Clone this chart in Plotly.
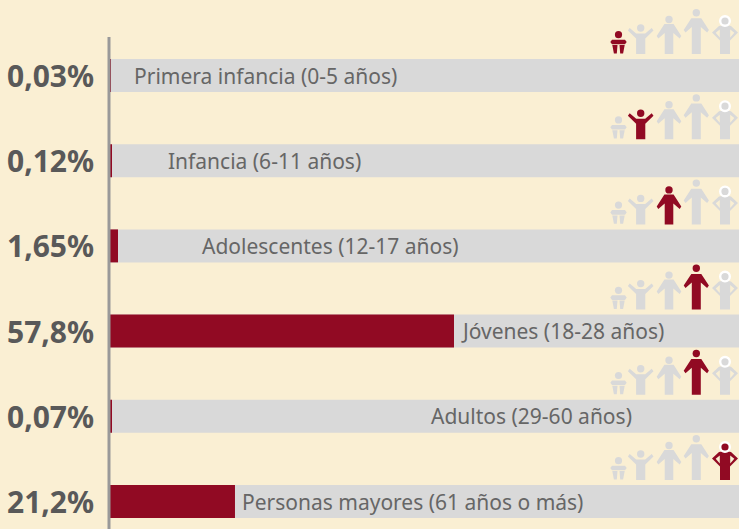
import plotly.graph_objects as go

# ---- data ----
categories = ["Primera infancia (0-5 años)", "Infancia (6-11 años)", "Adolescentes (12-17 años)",
              "Jóvenes (18-28 años)", "Adultos (29-60 años)", "Personas mayores (61 años o más)"]
percent_labels = ["0,03%", "0,12%", "1,65%", "57,8%", "0,07%", "21,2%"]
bar_values = [0.15, 0.3, 1.35, 57.8, 0.3, 21.0]
track_values = [106, 106, 106, 106, 106, 106]
highlighted_icon = [0, 1, 2, 3, 3, 4]

# ---- layout constants ----
W, H = 739, 529
X0 = 110
PX_PER_UNIT = 344 / 57.8
ROW0, PITCH = 75.5, 85.2
label_start_px = [132, 166, 200, 459, 429, 240]
icon_center_px = [618.5, 640.7, 669, 696.3, 725]
ICON_BASE_ABOVE_BAR = 21.5
BG, GREY, RED = "#FAEFD3", "#D9D9D9", "#910A23"
AXIS = "#999999"
LABEL_FONT = "Noto Sans"
PCT_FONT = "Noto Sans"


def x_data(px):
    return (px - X0) / PX_PER_UNIT


def poly(right_half):
    pts = list(right_half) + [(-x, y) for x, y in reversed(right_half)]
    return "M" + " L".join(f"{x},{y}" for x, y in pts) + " Z"


baby_legs = "M-6.2,9 L-1,9 L-1.7,0.6 L-4.6,0.6 Z M1,9 L6.2,9 L4.6,0.6 L1.7,0.6 Z"
baby_arms = poly([(0.1, 9.7), (6.5, 9.7), (8.2, 12), (6.5, 14.3), (0.1, 14.3)])
icons = [
    {"head": (19.3, 3.6), "paths": [baby_legs, baby_arms]},
    {"head": (26, 3.7), "paths": [poly([(1, 0), (4.6, 0), (4.6, 15.5), (12.8, 23.5), (11, 26), (4.5, 20.5)])]},
    {"head": (34.5, 3.7), "paths": [poly([(1, 0), (4.3, 0), (4.3, 21), (10.7, 15.5), (12.3, 18), (4.6, 30)])]},
    {"head": (41.3, 3.7), "paths": [poly([(1, 0), (4.5, 0), (4.5, 27), (10.8, 21.5), (12.6, 24), (5, 35.7)])]},
    {"head": (33, 3.8), "ring": True,
     "paths": [poly([(1, 0), (5, 0), (5, 13.5), (13, 21.5), (6, 28), (3, 28.5)])
               + " M5.2,16.5 L9.3,21.2 L5.2,24.5 Z M-5.2,16.5 L-9.3,21.2 L-5.2,24.5 Z"]},
]

fig = go.Figure()
fig.add_bar(y=list(range(6)), x=track_values, orientation="h", width=0.387,
            marker=dict(color=GREY, line_width=0), hoverinfo="skip")
fig.add_bar(y=list(range(6)), x=bar_values, orientation="h", width=0.387,
            marker=dict(color=RED, line_width=0), hoverinfo="skip")

annotations = []
for i, (cat, pct) in enumerate(zip(categories, percent_labels)):
    annotations.append(dict(x=x_data(label_start_px[i]), y=i, text=cat, showarrow=False, xanchor="left",
                            xref="x", yref="y", font=dict(family=LABEL_FONT, size=21, color="#666666")))
    annotations.append(dict(x=x_data(96), y=i, text=f"<b>{pct}</b>", showarrow=False, xanchor="right",
                            xref="x", yref="y", font=dict(family=PCT_FONT, size=30, color="#595959")))

shapes = [dict(type="line", xref="x", yref="paper", x0=x_data(109), x1=x_data(109),
               y0=0, y1=1 - 37 / H, line=dict(color=AXIS, width=3))]
for row, hi in enumerate(highlighted_icon):
    for k, icon in enumerate(icons):
        col = RED if k == hi else GREY
        anchor = dict(xref="x", yref="y", xsizemode="pixel", ysizemode="pixel",
                      xanchor=x_data(icon_center_px[k]), yanchor=row - ICON_BASE_ABOVE_BAR / PITCH)
        for p in icon["paths"]:
            shapes.append(dict(type="path", path=p, fillcolor=col, line_width=0, **anchor))
        cy, r = icon["head"]
        if icon.get("ring"):
            shapes.append(dict(type="circle", x0=-r - 1, x1=r + 1, y0=cy - r - 1, y1=cy + r + 1,
                               fillcolor=col, line=dict(color="white", width=2.4), **anchor))
        else:
            shapes.append(dict(type="circle", x0=-r, x1=r, y0=cy - r, y1=cy + r,
                               fillcolor=col, line_width=0, **anchor))

fig.update_layout(
    width=W, height=H, margin=dict(l=0, r=0, t=0, b=0), autosize=False,
    paper_bgcolor=BG, plot_bgcolor=BG, barmode="overlay", showlegend=False,
    xaxis=dict(range=[x_data(0), x_data(W)], visible=False, fixedrange=True),
    yaxis=dict(range=[(H - ROW0) / PITCH, -ROW0 / PITCH], visible=False, fixedrange=True),
    annotations=annotations, shapes=shapes,
)
fig.write_html("out.html", config=dict(displayModeBar=False),
               post_script="document.body.style.margin='0';document.body.style.overflow='hidden';"
                           "document.documentElement.style.background='" + BG + "';")
